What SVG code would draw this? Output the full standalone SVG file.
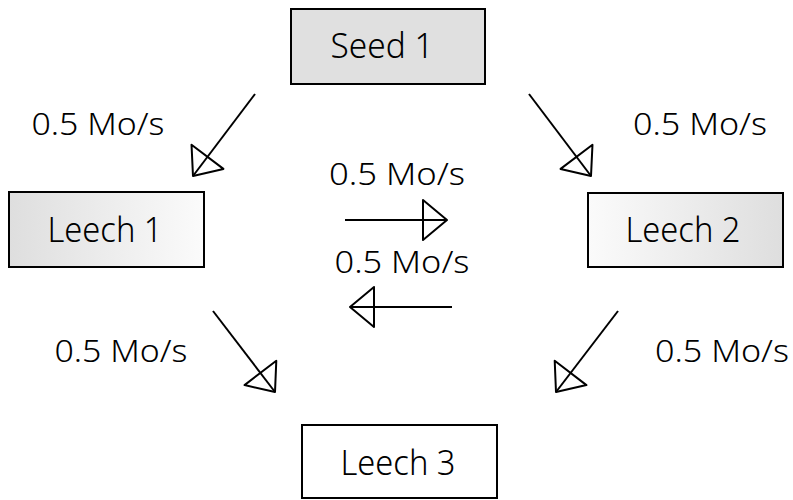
<svg xmlns="http://www.w3.org/2000/svg" width="793" height="500" viewBox="0 0 793 500">
<style>
.box{stroke:#000;stroke-width:2}
.t{font-family:"Noto Sans","Open Sans","Liberation Sans",sans-serif;font-size:34px;font-weight:300;fill:#000;text-anchor:middle}
.lbl{font-family:"Noto Sans","Open Sans","Liberation Sans",sans-serif;font-size:31px;font-weight:300;fill:#000;text-anchor:middle}
.c{stroke:#000;stroke-width:2;fill:none;marker-end:url(#open)}
</style>
<defs>
<linearGradient id="gL" x1="0" y1="0" x2="1" y2="0"><stop offset="0" stop-color="#dedede"/><stop offset="1" stop-color="#fbfbfb"/></linearGradient>
<linearGradient id="gR" x1="0" y1="0" x2="1" y2="0"><stop offset="0" stop-color="#fbfbfb"/><stop offset="1" stop-color="#dedede"/></linearGradient>
<marker id="open" markerUnits="userSpaceOnUse" markerWidth="30" markerHeight="46" viewBox="-2 -3 30 46" refX="24" refY="20" orient="auto">
<path d="M0,0 L24,20 L0,40 Z" fill="none" stroke="#000" stroke-width="2" stroke-linejoin="round"/>
</marker>
</defs>
<g id="seed1"><rect class="box" x="291" y="9" width="194" height="75" fill="#e0e0e0"/><text class="t" x="382" y="58" textLength="103" lengthAdjust="spacingAndGlyphs">Seed 1</text></g>
<g id="leech1"><rect class="box" x="9" y="192" width="195" height="75" fill="url(#gL)"/><text class="t" x="105" y="242" textLength="115" lengthAdjust="spacingAndGlyphs">Leech 1</text></g>
<g id="leech2"><rect class="box" x="588" y="193" width="195" height="74" fill="url(#gR)"/><text class="t" x="683" y="242" textLength="115" lengthAdjust="spacingAndGlyphs">Leech 2</text></g>
<g id="leech3"><rect class="box" x="302" y="425" width="195" height="73" fill="#fff"/><text class="t" x="398" y="475" textLength="115" lengthAdjust="spacingAndGlyphs">Leech 3</text></g>
<g id="connectors">
<line class="c" x1="255" y1="94" x2="193" y2="176"/>
<line class="c" x1="529" y1="94" x2="591" y2="176"/>
<line class="c" x1="345" y1="220" x2="447" y2="220"/>
<line class="c" x1="452" y1="307" x2="350" y2="307"/>
<line class="c" x1="213" y1="311" x2="275" y2="392"/>
<line class="c" x1="618" y1="311" x2="556" y2="392"/>
</g>
<g id="labels">
<text class="lbl" x="98" y="135" textLength="133" lengthAdjust="spacingAndGlyphs">0.5 Mo/s</text>
<text class="lbl" x="700" y="135" textLength="134" lengthAdjust="spacingAndGlyphs">0.5 Mo/s</text>
<text class="lbl" x="397" y="185" textLength="136" lengthAdjust="spacingAndGlyphs">0.5 Mo/s</text>
<text class="lbl" x="402" y="273" textLength="135" lengthAdjust="spacingAndGlyphs">0.5 Mo/s</text>
<text class="lbl" x="121" y="362" textLength="133" lengthAdjust="spacingAndGlyphs">0.5 Mo/s</text>
<text class="lbl" x="722" y="362" textLength="134" lengthAdjust="spacingAndGlyphs">0.5 Mo/s</text>
</g>
</svg>
